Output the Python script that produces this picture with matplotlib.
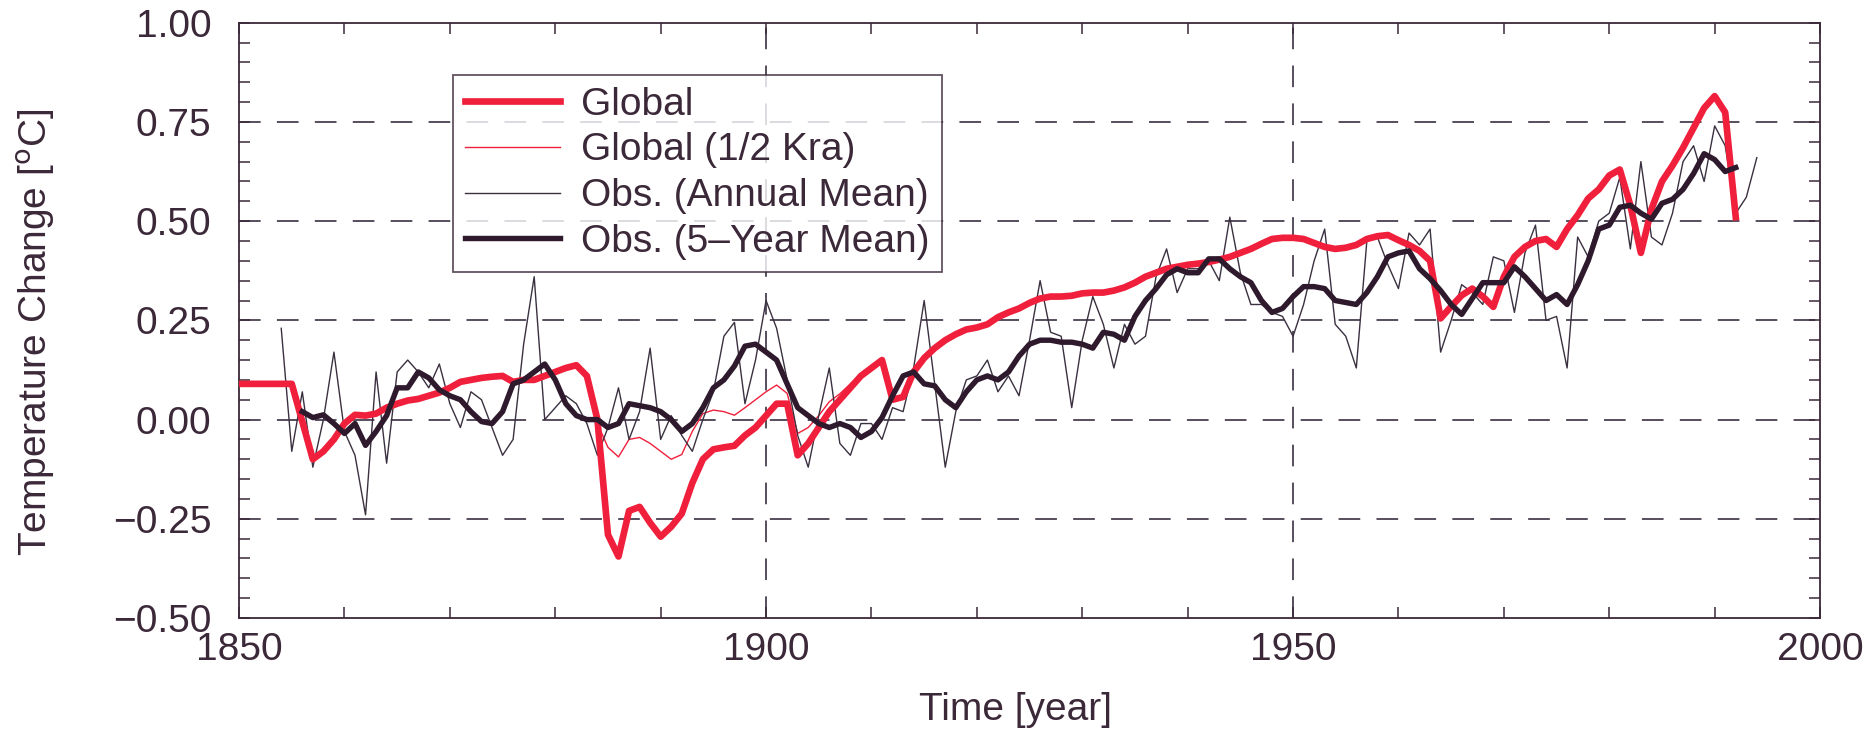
import numpy as np
import matplotlib
matplotlib.use("Agg")
import matplotlib.pyplot as plt
from matplotlib.ticker import MultipleLocator, FixedLocator

# ---------------- data ----------------
global_years = list(range(1850, 1993))
global_vals = [
    0.09, 0.09, 0.09, 0.09, 0.09, 0.09, -0.005, -0.10, -0.08, -0.05,          # 1850-1859
    -0.01, 0.012, 0.01, 0.015, 0.03, 0.04, 0.048, 0.052, 0.06, 0.068,         # 1860-1869
    0.08, 0.095, 0.10, 0.105, 0.108, 0.11, 0.095, 0.10, 0.10, 0.11,           # 1870-1879
    0.12, 0.13, 0.137, 0.11, 0.0, -0.29, -0.345, -0.23, -0.22, -0.26,         # 1880-1889
    -0.295, -0.27, -0.237, -0.16, -0.10, -0.075, -0.07, -0.066, -0.04, -0.02, # 1890-1899
    0.01, 0.04, 0.04, -0.09, -0.06, -0.02, 0.02, 0.05, 0.08, 0.11,            # 1900-1909
    0.13, 0.15, 0.05, 0.057, 0.12, 0.155, 0.18, 0.20, 0.215, 0.227,           # 1910-1919
    0.232, 0.24, 0.258, 0.27, 0.28, 0.294, 0.305, 0.31, 0.31, 0.312,          # 1920-1929
    0.318, 0.32, 0.32, 0.325, 0.333, 0.345, 0.36, 0.37, 0.38, 0.385,          # 1930-1939
    0.39, 0.393, 0.397, 0.403, 0.41, 0.42, 0.43, 0.443, 0.455, 0.458,         # 1940-1949
    0.458, 0.455, 0.445, 0.435, 0.43, 0.433, 0.44, 0.455, 0.462, 0.465,       # 1950-1959
    0.452, 0.44, 0.425, 0.40, 0.255, 0.285, 0.313, 0.33, 0.31, 0.284,        # 1960-1969
    0.36, 0.41, 0.435, 0.45, 0.455, 0.435, 0.48, 0.515, 0.557, 0.58,          # 1970-1979
    0.615, 0.63, 0.54, 0.42, 0.53, 0.60, 0.64, 0.685, 0.735, 0.785,           # 1980-1989
    0.815, 0.774, 0.51,                                                       # 1990-1992
]

half_kra_years = list(range(1883, 1912))
half_kra_vals = [
    0.11, -0.01, -0.07, -0.094, -0.05, -0.045, -0.06,                          # 1883-1889
    -0.08, -0.10, -0.088, -0.03, 0.015, 0.024, 0.02, 0.011, 0.03, 0.05,        # 1890-1899
    0.07, 0.087, 0.066, -0.035, -0.02, 0.01, 0.045, 0.065, 0.09, 0.115,        # 1900-1909
    0.135, 0.15,                                                               # 1910-1911
]

obs_years = list(range(1854, 1995))
obs_annual = [
    0.23, -0.08, 0.07, -0.12, 0.00, 0.17,                                      # 1854-1859
    -0.03, -0.09, -0.24, 0.12, -0.11, 0.12, 0.15, 0.12, 0.08, 0.14,            # 1860-1869
    0.04, -0.02, 0.07, 0.05, -0.02, -0.09, -0.05, 0.19, 0.36, 0.00,            # 1870-1879
    0.03, 0.06, 0.04, -0.01, -0.09, -0.02, 0.08, -0.05, 0.02, 0.18,            # 1880-1889
    -0.05, 0.01, -0.04, -0.08, 0.00, 0.07, 0.21, 0.245, 0.04, 0.15,            # 1890-1899
    0.30, 0.23, 0.10, -0.04, -0.12, 0.01, 0.13, -0.06, -0.09, -0.01,           # 1900-1909
    -0.01, -0.05, 0.03, 0.02, 0.13, 0.30, 0.09, -0.12, 0.02, 0.10,             # 1910-1919
    0.11, 0.15, 0.07, 0.11, 0.06, 0.20, 0.35, 0.22, 0.21, 0.03,                # 1920-1929
    0.20, 0.31, 0.24, 0.13, 0.24, 0.19, 0.21, 0.36, 0.43, 0.32,                # 1930-1939
    0.38, 0.38, 0.40, 0.35, 0.51, 0.37, 0.29, 0.29, 0.27, 0.26,                # 1940-1949
    0.21, 0.29, 0.40, 0.48, 0.24, 0.21, 0.13, 0.45, 0.46, 0.39,                # 1950-1959
    0.33, 0.47, 0.44, 0.48, 0.17, 0.25, 0.34, 0.32, 0.29, 0.41,                # 1960-1969
    0.40, 0.27, 0.42, 0.49, 0.25, 0.26, 0.13, 0.46, 0.41, 0.50,                # 1970-1979
    0.52, 0.61, 0.43, 0.65, 0.46, 0.44, 0.52, 0.65, 0.69, 0.60,                # 1980-1989
    0.74, 0.69, 0.52, 0.56, 0.66,                                              # 1990-1994
]

obs5_years = list(range(1856, 1993))
obs5_vals = [
    0.02, 0.005, 0.012, -0.01,                                                 # 1856-1859
    -0.035, -0.01, -0.065, -0.03, 0.01, 0.08, 0.08, 0.12, 0.105, 0.075,        # 1860-1869
    0.06, 0.05, 0.02, -0.005, -0.01, 0.02, 0.09, 0.10, 0.12, 0.14,             # 1870-1879
    0.10, 0.04, 0.01, 0.00, 0.00, -0.02, -0.01, 0.04, 0.035, 0.03,             # 1880-1889
    0.02, 0.00, -0.03, -0.01, 0.03, 0.08, 0.10, 0.135, 0.185, 0.19,            # 1890-1899
    0.17, 0.15, 0.09, 0.03, 0.01, -0.01, -0.02, -0.01, -0.02, -0.045,          # 1900-1909
    -0.03, 0.005, 0.06, 0.11, 0.12, 0.09, 0.085, 0.05, 0.03, 0.07,             # 1910-1919
    0.10, 0.11, 0.10, 0.12, 0.16, 0.19, 0.20, 0.20, 0.195, 0.195,              # 1920-1929
    0.19, 0.18, 0.22, 0.215, 0.20, 0.26, 0.30, 0.33, 0.365, 0.38,              # 1930-1939
    0.37, 0.37, 0.405, 0.405, 0.38, 0.36, 0.345, 0.30, 0.27, 0.28,             # 1940-1949
    0.31, 0.335, 0.335, 0.33, 0.30, 0.295, 0.29, 0.32, 0.36, 0.41,             # 1950-1959
    0.42, 0.425, 0.38, 0.355, 0.325, 0.29, 0.265, 0.305, 0.345, 0.345,         # 1960-1969
    0.345, 0.385, 0.36, 0.33, 0.30, 0.315, 0.29, 0.34, 0.40, 0.48,             # 1970-1979
    0.49, 0.535, 0.54, 0.52, 0.505, 0.545, 0.555, 0.58, 0.62, 0.67,            # 1980-1989
    0.655, 0.625, 0.635,                                                       # 1990-1992
]

labels = ["Global", "Global (1/2 Kra)", "Obs. (Annual Mean)", "Obs. (5\u2013Year Mean)"]
x_ticks = [1850, 1900, 1950, 2000]
y_ticks = [-0.50, -0.25, 0.00, 0.25, 0.50, 0.75, 1.00]

# ---------------- style ----------------
plt.rcParams['font.family'] = ['Liberation Sans', 'DejaVu Sans']
FS = 28
TXT = '#3b2838'
RED = '#f0203c'
DARK = '#2e1a2c'
THIN = '#3a3040'
GRID = '#4a4050'

fig = plt.figure(figsize=(18.75, 7.30), dpi=100)
ax = fig.add_axes([0.1275, 0.1534, 0.9707 - 0.1275, 0.9689 - 0.1534])

ax.set_xlim(1850, 2000)
ax.set_ylim(-0.5, 1.0)

# grid lines (dashed)
for yv in [-0.25, 0.0, 0.25, 0.5, 0.75]:
    ax.axhline(yv, color=GRID, lw=1.3, dashes=(12, 9), zorder=1)
for xv in [1900, 1950]:
    ax.axvline(xv, color=GRID, lw=1.3, dashes=(12, 9), zorder=1)

l1, = ax.plot(global_years, global_vals, color=RED, lw=4.8, zorder=4)
l2, = ax.plot(half_kra_years, half_kra_vals, color=RED, lw=1.0, zorder=3)
l3, = ax.plot(obs_years, obs_annual, color=THIN, lw=1.0, zorder=3)
l4, = ax.plot(obs5_years, obs5_vals, color=DARK, lw=3.9, zorder=5)

# ticks
ax.xaxis.set_major_locator(FixedLocator(x_ticks))
ax.xaxis.set_minor_locator(MultipleLocator(10))
ax.yaxis.set_major_locator(FixedLocator(y_ticks))
ax.yaxis.set_minor_locator(MultipleLocator(0.05))
ax.set_xticklabels([str(v) for v in x_ticks])
ax.set_yticklabels(["%.2f" % v if v >= 0 else "\u2212%.2f" % abs(v) for v in y_ticks])
ax.tick_params(which='both', direction='in', top=True, right=True, colors=TXT,
               labelsize=FS, width=1.1, length=8)
ax.tick_params(axis='x', which='major', pad=10)
ax.tick_params(axis='y', which='major', pad=20)
for lab in ax.get_xticklabels() + ax.get_yticklabels():
    lab.set_color(TXT)

for sp in ax.spines.values():
    sp.set_color(TXT)
    sp.set_linewidth(1.3)

ax.set_xlabel("Time [year]", fontsize=FS, color=TXT)
ax.set_ylabel("Temperature Change [$^{\\rm o}$C]", fontsize=FS, color=TXT)
ax.xaxis.set_label_coords(0.491, -0.125)
ax.yaxis.set_label_coords(-0.115, 0.48)

leg = ax.legend([l1, l2, l3, l4], labels, loc='upper left',
                bbox_to_anchor=(0.1354, 0.912), borderaxespad=0,
                fancybox=False, frameon=True, fontsize=FS,
                handlelength=2.45, handletextpad=0.55, labelspacing=0.25,
                borderpad=0.3)
leg.get_frame().set_edgecolor(TXT)
leg.get_frame().set_linewidth(1.3)
for t in leg.get_texts():
    t.set_color(TXT)

fig.savefig("out.png", dpi=100)
